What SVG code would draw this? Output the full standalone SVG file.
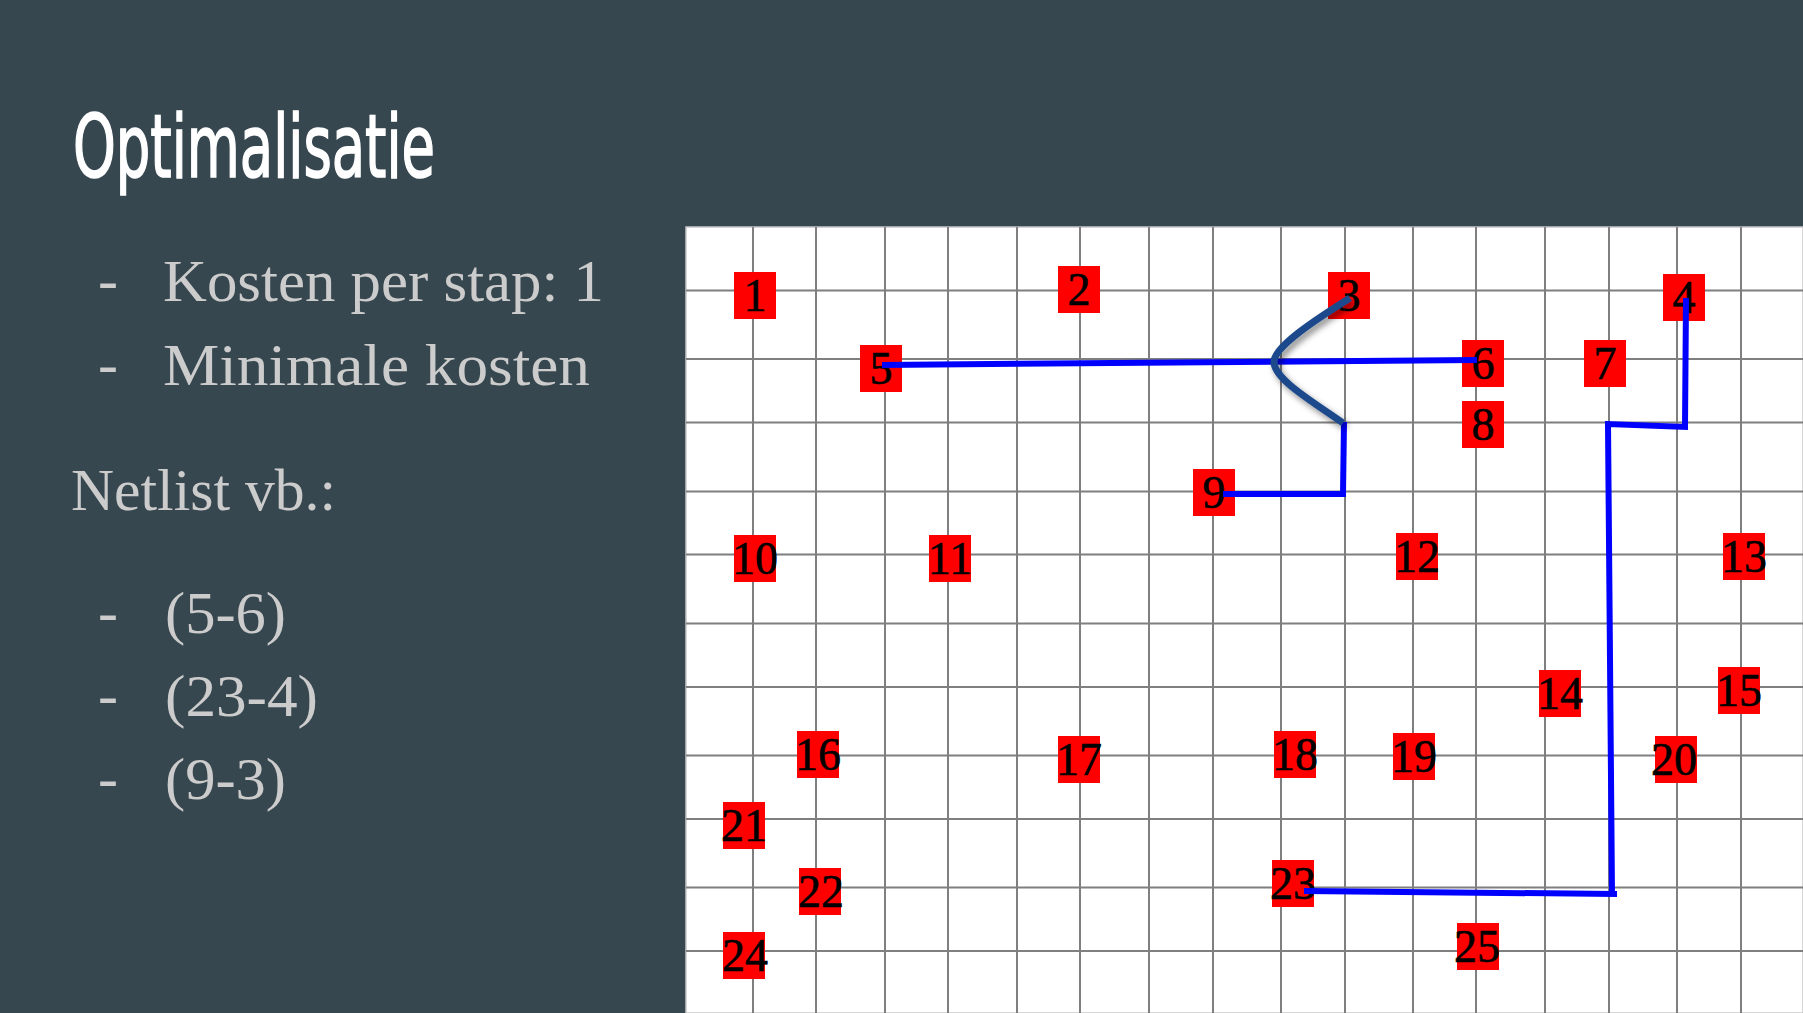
<svg xmlns="http://www.w3.org/2000/svg" width="1803" height="1013" viewBox="0 0 1803 1013">
<defs>
<style>
.bg{fill:#37474f}
.title{font-family:"Liberation Sans Narrow","DejaVu Sans Condensed","Liberation Sans",sans-serif;font-size:88px;fill:#ffffff;stroke:#ffffff;stroke-width:1.6px}
.body{font-family:"Liberation Serif","DejaVu Serif",serif;font-size:60px;fill:#cccccc}
.dash{font-family:"Liberation Serif","DejaVu Serif",serif;font-size:60px;fill:#cccccc}
.grid line{stroke:#7f7f7f;stroke-width:2}
.node rect{fill:#ff0000}
.node text{font-family:"Liberation Serif","Times New Roman",serif;font-size:46px;fill:#000000;stroke:#000000;stroke-width:0.6px;text-anchor:middle}
.wire{fill:none;stroke:#0000ff;stroke-width:6;stroke-linejoin:miter}
.curve{fill:none;stroke:#1f4a8c;stroke-width:7;stroke-linecap:butt}
</style>
<filter id="shadow" x="-20%" y="-20%" width="150%" height="150%">
<feDropShadow dx="3" dy="4" stdDeviation="3" flood-color="#000" flood-opacity="0.45"/>
</filter>
</defs>
<rect class="bg" x="0" y="0" width="1803" height="1013"/>
<text class="title" x="73" y="177" textLength="362" lengthAdjust="spacingAndGlyphs">Optimalisatie</text>
<g id="bullets">
<text class="dash" x="98" y="300">-</text>
<text class="body" x="163" y="301" textLength="441" lengthAdjust="spacingAndGlyphs">Kosten per stap: 1</text>
<text class="dash" x="98" y="384">-</text>
<text class="body" x="163" y="385" textLength="427" lengthAdjust="spacingAndGlyphs">Minimale kosten</text>
<text class="body" x="71" y="510" textLength="265" lengthAdjust="spacingAndGlyphs">Netlist vb.:</text>
<text class="dash" x="98" y="632">-</text>
<text class="body" x="165" y="633" textLength="121" lengthAdjust="spacingAndGlyphs">(5-6)</text>
<text class="dash" x="98" y="715">-</text>
<text class="body" x="165" y="716" textLength="153" lengthAdjust="spacingAndGlyphs">(23-4)</text>
<text class="dash" x="98" y="798">-</text>
<text class="body" x="165" y="799" textLength="121" lengthAdjust="spacingAndGlyphs">(9-3)</text>
</g>
<g id="panel">
<rect x="686" y="227" width="1117" height="786" fill="#ffffff" stroke="#c8c8c8" stroke-width="1.5"/>
<g class="grid">
<line x1="753" y1="227" x2="753" y2="1013"/>
<line x1="816" y1="227" x2="816" y2="1013"/>
<line x1="885" y1="227" x2="885" y2="1013"/>
<line x1="948" y1="227" x2="948" y2="1013"/>
<line x1="1017" y1="227" x2="1017" y2="1013"/>
<line x1="1080" y1="227" x2="1080" y2="1013"/>
<line x1="1149" y1="227" x2="1149" y2="1013"/>
<line x1="1213" y1="227" x2="1213" y2="1013"/>
<line x1="1281" y1="227" x2="1281" y2="1013"/>
<line x1="1345" y1="227" x2="1345" y2="1013"/>
<line x1="1413" y1="227" x2="1413" y2="1013"/>
<line x1="1476" y1="227" x2="1476" y2="1013"/>
<line x1="1545" y1="227" x2="1545" y2="1013"/>
<line x1="1609" y1="227" x2="1609" y2="1013"/>
<line x1="1677" y1="227" x2="1677" y2="1013"/>
<line x1="1741" y1="227" x2="1741" y2="1013"/>
<line x1="686" y1="290.5" x2="1803" y2="290.5"/>
<line x1="686" y1="359" x2="1803" y2="359"/>
<line x1="686" y1="422.5" x2="1803" y2="422.5"/>
<line x1="686" y1="491.5" x2="1803" y2="491.5"/>
<line x1="686" y1="554.5" x2="1803" y2="554.5"/>
<line x1="686" y1="623.5" x2="1803" y2="623.5"/>
<line x1="686" y1="687" x2="1803" y2="687"/>
<line x1="686" y1="755.5" x2="1803" y2="755.5"/>
<line x1="686" y1="819" x2="1803" y2="819"/>
<line x1="686" y1="887.5" x2="1803" y2="887.5"/>
<line x1="686" y1="951" x2="1803" y2="951"/>
</g>
</g>
<g id="n1" class="node"><rect x="734" y="272" width="42" height="47"/><text x="755" y="311">1</text></g>
<g id="n2" class="node"><rect x="1058" y="266" width="42" height="47"/><text x="1079" y="305">2</text></g>
<g id="n3" class="node"><rect x="1328" y="272" width="42" height="47"/><text x="1349" y="311">3</text></g>
<g id="n4" class="node"><rect x="1663" y="274" width="42" height="47"/><text x="1684" y="313">4</text></g>
<g id="n5" class="node"><rect x="860" y="345" width="42" height="47"/><text x="881" y="384">5</text></g>
<g id="n6" class="node"><rect x="1462" y="340" width="42" height="47"/><text x="1483" y="379">6</text></g>
<g id="n7" class="node"><rect x="1584" y="340" width="42" height="47"/><text x="1605" y="379">7</text></g>
<g id="n8" class="node"><rect x="1462" y="401" width="42" height="47"/><text x="1483" y="440">8</text></g>
<g id="n9" class="node"><rect x="1193" y="469" width="42" height="47"/><text x="1214" y="508">9</text></g>
<g id="n10" class="node"><rect x="734" y="535" width="42" height="47"/><text x="755" y="574">10</text></g>
<g id="n11" class="node"><rect x="929" y="535" width="42" height="47"/><text x="950" y="574">11</text></g>
<g id="n12" class="node"><rect x="1396" y="533" width="42" height="47"/><text x="1417" y="572">12</text></g>
<g id="n13" class="node"><rect x="1723" y="533" width="42" height="47"/><text x="1744" y="572">13</text></g>
<g id="n14" class="node"><rect x="1539" y="670" width="42" height="47"/><text x="1560" y="709">14</text></g>
<g id="n15" class="node"><rect x="1718" y="667" width="42" height="47"/><text x="1739" y="706">15</text></g>
<g id="n16" class="node"><rect x="797" y="731" width="42" height="47"/><text x="818" y="770">16</text></g>
<g id="n17" class="node"><rect x="1058" y="736" width="42" height="47"/><text x="1079" y="775">17</text></g>
<g id="n18" class="node"><rect x="1274" y="731" width="42" height="47"/><text x="1295" y="770">18</text></g>
<g id="n19" class="node"><rect x="1393" y="733" width="42" height="47"/><text x="1414" y="772">19</text></g>
<g id="n20" class="node"><rect x="1655" y="736" width="42" height="47"/><text x="1674" y="775">20</text></g>
<g id="n21" class="node"><rect x="723" y="802" width="42" height="47"/><text x="744" y="841">21</text></g>
<g id="n22" class="node"><rect x="799" y="868" width="42" height="47"/><text x="821" y="907">22</text></g>
<g id="n23" class="node"><rect x="1272" y="860" width="42" height="47"/><text x="1293" y="899">23</text></g>
<g id="n24" class="node"><rect x="723" y="932" width="42" height="47"/><text x="745" y="971">24</text></g>
<g id="n25" class="node"><rect x="1457" y="923" width="42" height="47"/><text x="1477" y="962">25</text></g>
<g id="connectors">
<polyline class="wire" points="882,365 1477,360"/>
<polyline class="wire" points="1223,494 1343,494 1344,422"/>
<polyline class="wire" points="1304,891 1617,894"/>
<polyline class="wire" points="1612,894 1608,424 1685,427 1686,298"/>
<path class="curve" filter="url(#shadow)" d="M1350,298 C1315,320 1272,348 1274,363 C1276,380 1310,400 1343,423"/>
</g>
</svg>
